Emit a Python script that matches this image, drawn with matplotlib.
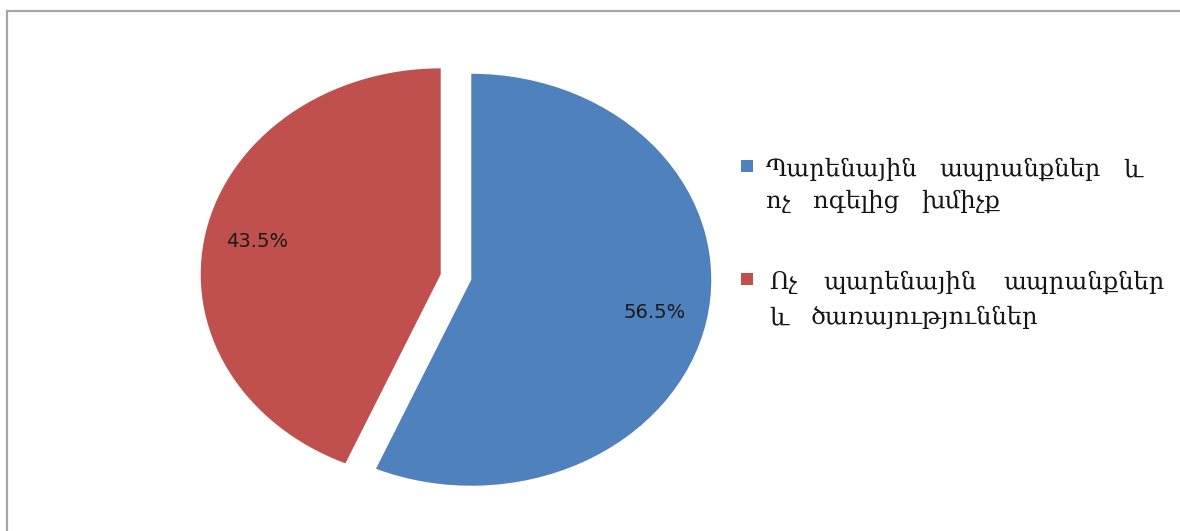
import numpy as np
import matplotlib
matplotlib.use("Agg")
import matplotlib.pyplot as plt
from matplotlib.patches import Rectangle

# --------- données ---------
categories = ["Պարենային ապրանքներ և ոչ ոգելից խմիչք",
              "Ոչ պարենային ապրանքներ և ծառայություններ"]
shares = [56.5, 43.5]
colors = ["#4F81BD", "#C0504D"]

# découpage des libellés de la légende (2 lignes chacun)
legend_lines = [["Պարենային ապրանքներ և", "ոչ ոգելից խմիչք"],
                ["Ոչ պարենային ապրանքներ", "և ծառայություններ"]]

W, H = 1180, 531

fig = plt.figure(figsize=(W / 100, H / 100), dpi=100)
ax = fig.add_axes([0, 0, 1, 1])
wedges, texts, autotexts = ax.pie(shares, colors=colors, startangle=90,
                                  counterclock=False, explode=[0.065, 0.065],
                                  autopct="%1.1f%%", pctdistance=0.78,
                                  textprops=dict(fontsize=14, color="#1a1a1a"))
# le graphique d'origine est étiré horizontalement
ax.set_aspect("auto")
ax.set_xlim(-1.9, 3.0167)
ax.set_ylim(-1.233, 1.345)
ax.axis("off")

# cadre gris
fig.add_artist(Rectangle((7 / W, -0.1), 1.2, 1 - 11 / H + 0.1,
                         transform=fig.transFigure, fill=False,
                         edgecolor="#a6a6a6", lw=1.6))

# --------- légende (texte justifié) ---------
renderer = fig.canvas.get_renderer()
font = dict(fontsize=17.5, family=["DejaVu Serif", "DejaVu Sans"],
            color="#151515")


def put_line(words, x0, y, x1=None, gap=22):
    tl = [fig.text(0, 1 - y / H, w, va="baseline", ha="left", **font) for w in words]
    widths = [t.get_window_extent(renderer).width for t in tl]
    if x1 is not None and len(words) > 1:
        gap = (x1 - x0 - sum(widths)) / (len(words) - 1)
    x = x0
    for t, w in zip(tl, widths):
        t.set_x(x / W)
        x += w + gap


square_y = [166, 279]
line_y = [[176, 208], [289, 324]]
line_start = [766, 769]
line_end = [1142, 1165]
for i, lines in enumerate(legend_lines):
    fig.add_artist(Rectangle((741 / W, 1 - (square_y[i] + 6) / H), 12 / W, 12 / H,
                             transform=fig.transFigure, color=colors[i], lw=0))
    put_line(lines[0].split(), line_start[i], line_y[i][0], x1=line_end[i])
    put_line(lines[1].split(), line_start[i], line_y[i][1])

fig.savefig("out.png", dpi=100, facecolor="white")
